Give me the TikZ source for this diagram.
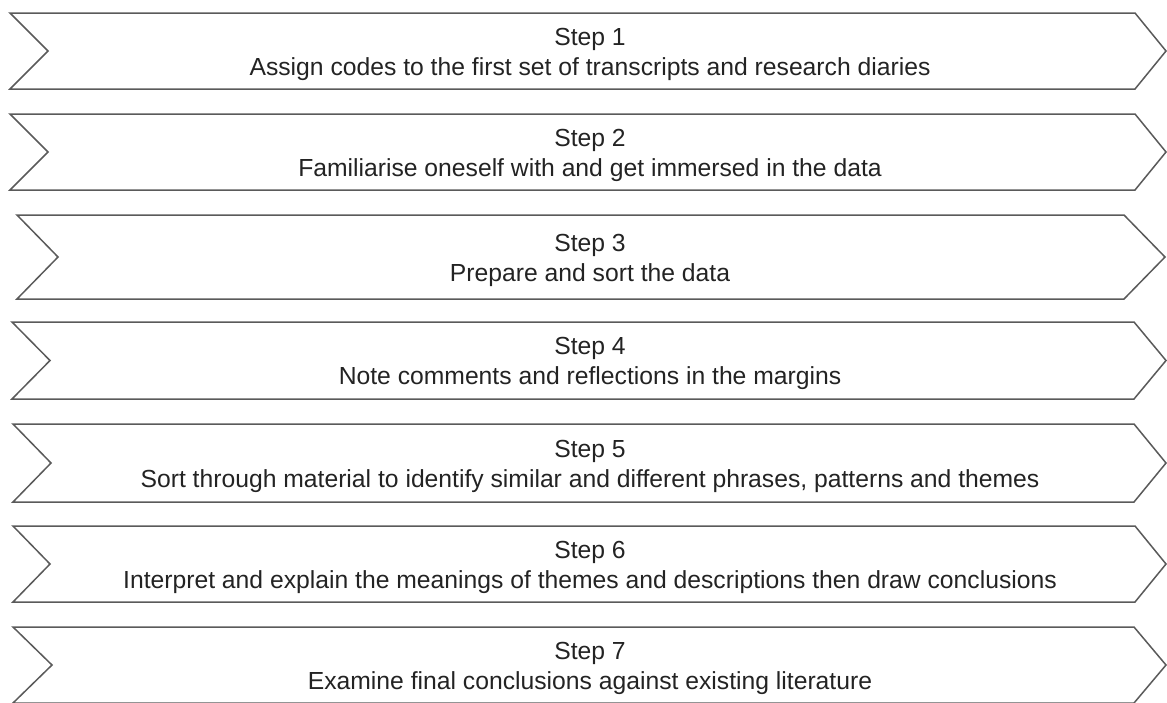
\documentclass[tikz,border=0pt]{standalone}
\usepackage{fontspec}
\setmainfont{Liberation Sans}
\definecolor{linegray}{RGB}{90,90,90}
\definecolor{textgray}{RGB}{35,35,35}
\begin{document}
\begin{tikzpicture}[x=1pt,y=-1pt,
  chevron/.style={draw=linegray, line width=1.5pt, line join=miter},
  steplabel/.style={anchor=base, inner sep=0pt, text=textgray, font=\fontsize{24.7}{30}\selectfont}]
\useasboundingbox (0,0) rectangle (1167,702);
\foreach \n/\t/\b/\l/\m/\r/\tp/\txt in {
  1/13/89/10/48/1135/1166/{Assign codes to the first set of transcripts and research diaries},
  2/114/190/10/48/1135/1166/{Familiarise oneself with and get immersed in the data},
  3/215/299/17/58/1124/1165/{Prepare and sort the data},
  4/322/399/12/50/1134/1166/{Note comments and reflections in the margins},
  5/424/502/13/51/1134/1166/{Sort through material to identify similar and different phrases, patterns and themes},
  6/526/602/13/50/1135/1166/{Interpret and explain the meanings of themes and descriptions then draw conclusions},
  7/627/703/13/52/1134/1166/{Examine final conclusions against existing literature}}{
  \draw[chevron] (\l,\t) -- (\r,\t) -- (\tp,{(\t+\b)/2}) -- (\r,\b) -- (\l,\b) -- (\m,{(\t+\b)/2}) -- cycle;
  \node[steplabel] (step\n) at (590,{(\t+\b)/2-6}) {Step \n};
  \node[steplabel] (desc\n) at (590,{(\t+\b)/2+24}) {\txt};
}
\end{tikzpicture}
\end{document}
